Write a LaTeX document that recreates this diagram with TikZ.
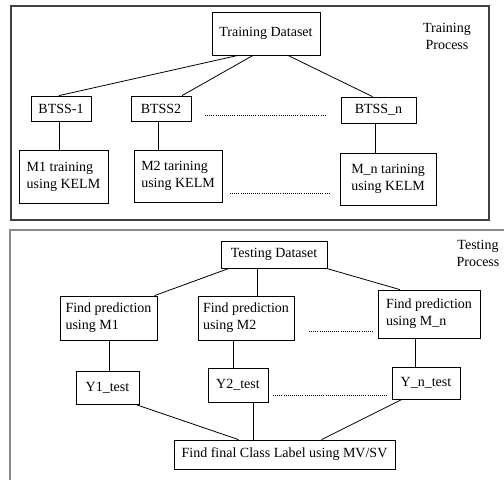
\documentclass[tikz,border=0pt]{standalone}
\usepackage{fontspec}
\setmainfont{Liberation Serif}
\usepackage{tikz}

\begin{document}
\begin{tikzpicture}[x=1pt,y=-1pt,
  every node/.style={font=\fontsize{14}{17}\selectfont},
  blocco/.style={draw, line width=0.8pt, inner sep=2pt, align=left},
  ramo/.style={line width=0.8pt},
  puntini/.style={line width=0.9pt, dash pattern=on 0.8pt off 1.3pt},
  cornice/.style={line width=1.3pt, draw=black!75}]
\useasboundingbox (0,0) rectangle (504,480);
% cornici
\draw[cornice] (11,6) rectangle (489,220);
\draw[cornice, draw=black!45, line width=1.6pt] (504,230) -- (10,230) -- (10,480);
% fase di training
\node at (447,36) [align=center] {Training\\Process};
\node[blocco, minimum width=108pt, minimum height=43pt] (train) at (266,33.5) {Training Dataset};
\node[blocco, minimum width=60pt, minimum height=25pt] (btss1) at (61,108.5) {BTSS-1};
\node[blocco, minimum width=60pt, minimum height=25pt] (btss2) at (161,108.5) {BTSS2};
\node[blocco, minimum width=75pt, minimum height=26pt] (btssn) at (378.5,110) {BTSS\_n};
\node[blocco, minimum width=89pt, minimum height=53pt] (m1) at (63.5,176.5) {M1 training\\using KELM};
\node[blocco, minimum width=88pt, minimum height=52pt] (m2) at (178,176) {M2 tarining\\using KELM};
\node[blocco, minimum width=96pt, minimum height=52pt] (mn) at (388,179) {M\_n tarining\\using KELM};
% rami del training
\draw[ramo] ([xshift=-28pt]train.south) -- ([xshift=-2pt]btss1.north);
\draw[ramo] ([xshift=-13pt]train.south) -- ([xshift=21pt]btss2.north);
\draw[ramo] ([xshift=22pt]train.south) -- ([xshift=-6pt]btssn.north);
\draw[ramo] ([xshift=-2pt]btss1.south) -- ([xshift=-2pt]btss1.south |- m1.north);
\draw[ramo] ([xshift=-3pt]btss2.south) -- ([xshift=-3pt]btss2.south |- m2.north);
\draw[ramo] ([xshift=-3pt]btssn.south) -- ([xshift=-3pt]btssn.south |- mn.north);
% puntini
\coordinate (d1a) at (205,115);
\coordinate (d1b) at (326,115);
\coordinate (d2a) at (230,193);
\coordinate (d2b) at (330,193);
\draw[puntini] (d1a) -- (d1b);
\draw[puntini] (d2a) -- (d2b);
% fase di testing
\node at (478,253) [align=center] {Testing\\Process};
\node[blocco, minimum width=106pt, minimum height=27pt] (test) at (274,254.5) {Testing Dataset};
\node[blocco, minimum width=97pt, minimum height=44pt] (p1) at (108.5,318) {Find prediction\\using M1};
\node[blocco, minimum width=96pt, minimum height=44pt] (p2) at (246,318) {Find prediction\\using M2};
\node[blocco, minimum width=102pt, minimum height=48pt] (pn) at (429,314) {Find prediction\\using M\_n};
\node[blocco, minimum width=63pt, minimum height=33pt] (y1) at (107.5,387.5) {Y1\_test};
\node[blocco, minimum width=60pt, minimum height=34pt] (y2) at (238,385) {Y2\_test};
\node[blocco, minimum width=68pt, minimum height=32pt] (yn) at (426,383) {Y\_n\_test};
\node[blocco, minimum width=221pt, minimum height=29pt] (final) at (284.5,454.5) {Find final Class Label using MV/SV};
% rami del testing
\draw[ramo] ([xshift=-45pt]test.south) -- ([xshift=46pt]p1.north);
\draw[ramo] ([xshift=-17pt]test.south) -- ([xshift=-17pt]test.south |- p2.north);
\draw[ramo] ([xshift=-1pt]test.south east) -- ([xshift=-29pt]pn.north);
\draw[ramo] ([xshift=2pt]y1.north) -- ([xshift=2pt]y1.north |- p1.south);
\draw[ramo] ([xshift=-5pt]y2.north) -- ([xshift=-5pt]y2.north |- p2.south);
\draw[ramo] ([xshift=-11pt]yn.north) -- ([xshift=-11pt]yn.north |- pn.south);
\draw[ramo] ([xshift=-4pt]y1.south east) -- ([xshift=-46pt]final.north);
\draw[ramo] ([xshift=15pt]y2.south) -- ([xshift=15pt]y2.south |- final.north);
\draw[ramo] ([xshift=-24pt]yn.south) -- ([xshift=37pt]final.north);
% puntini
\coordinate (d3a) at (309,331);
\coordinate (d3b) at (373,331);
\coordinate (d4a) at (273,395);
\coordinate (d4b) at (387,395);
\draw[puntini] (d3a) -- (d3b);
\draw[puntini] (d4a) -- (d4b);
\end{tikzpicture}
\end{document}
